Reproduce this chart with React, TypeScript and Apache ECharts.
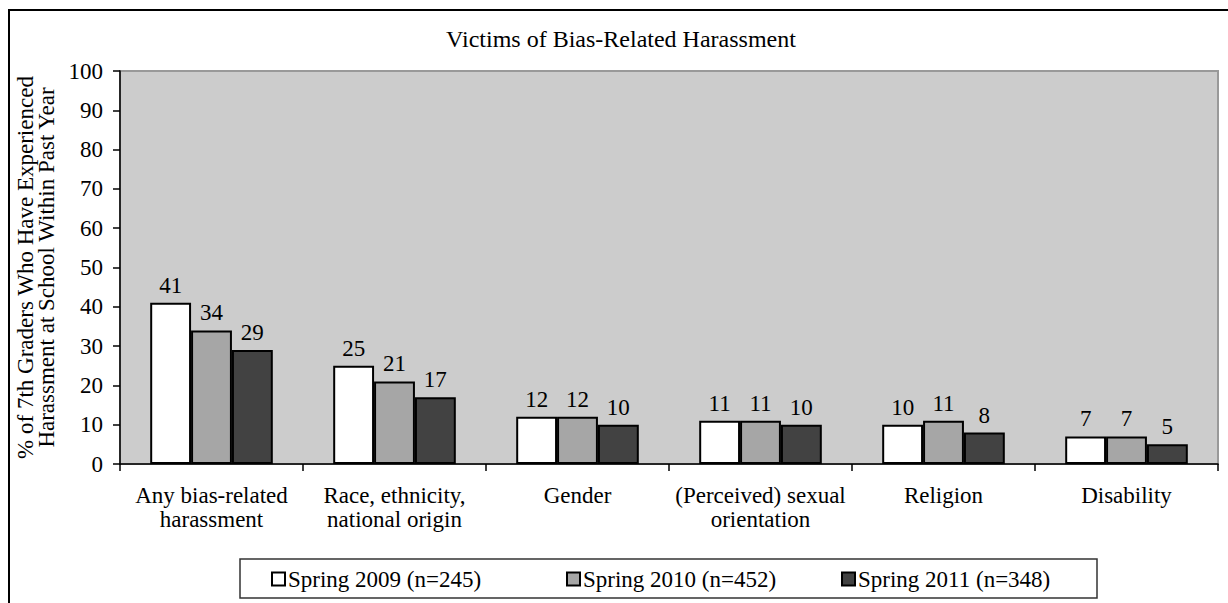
import React, { useEffect, useRef } from "react";
import * as echarts from "echarts";

const categories = [
  "Any bias-related\nharassment",
  "Race, ethnicity,\nnational origin",
  "Gender",
  "(Perceived) sexual\norientation",
  "Religion",
  "Disability",
];
const seriesNames = ["Spring 2009 (n=245)", "Spring 2010 (n=452)", "Spring 2011 (n=348)"];
const spring2009 = [41, 25, 12, 11, 10, 7];
const spring2010 = [34, 21, 12, 11, 11, 7];
const spring2011 = [29, 17, 10, 10, 8, 5];
const seriesColors = ["#ffffff", "#a6a6a6", "#424242"];
const yTicks = { min: 0, max: 100, interval: 10 };

const FONT = "Liberation Serif";
const FS = 23;

export default function App() {
  const ref = useRef<HTMLDivElement>(null);
  useEffect(() => {
    if (!ref.current) return;
    const chart = echarts.init(ref.current, undefined, { renderer: "svg" });
    const values = [spring2009, spring2010, spring2011];
    const legendLefts = [271, 566, 841];
    chart.setOption({
      animation: false,
      textStyle: { fontFamily: FONT, color: "#000" },
      title: {
        text: "Victims of Bias-Related Harassment",
        left: 621,
        top: 27,
        textAlign: "center",
        padding: 0,
        textStyle: { fontFamily: FONT, fontSize: 24, fontWeight: "normal", color: "#000", lineHeight: 24 },
      },
      graphic: [
        {
          type: "rect",
          z: -10,
          shape: { x: 9, y: 10, width: 1400, height: 800 },
          style: { fill: "none", stroke: "#000", lineWidth: 2 },
        },
        {
          type: "rect",
          z: -5,
          shape: { x: 240, y: 559, width: 857, height: 39 },
          style: { fill: "none", stroke: "#333", lineWidth: 1.5 },
        },
      ],
      legend: seriesNames.map((n, i) => ({
        data: [n],
        left: legendLefts[i],
        top: 566,
        padding: 0,
        selectedMode: false,
        itemWidth: 13,
        itemHeight: 13,
        icon: "rect",
        textStyle: { fontFamily: FONT, fontSize: FS, color: "#000", lineHeight: 26, padding: [0, 0, 0, -2] },
      })),
      grid: {
        left: 120,
        top: 71,
        right: 10,
        bottom: 139,
        show: true,
        backgroundColor: "#cccccc",
        borderColor: "#999999",
        borderWidth: 2,
      },
      xAxis: {
        type: "category",
        data: categories,
        axisLine: { lineStyle: { color: "#000", width: 1.5 } },
        axisTick: { show: true, length: 7, lineStyle: { color: "#000", width: 1.5 } },
        axisLabel: { fontFamily: FONT, fontSize: FS, color: "#000", lineHeight: 24, margin: 19, interval: 0 },
        splitLine: { show: false },
      },
      yAxis: {
        type: "value",
        min: yTicks.min,
        max: yTicks.max,
        interval: yTicks.interval,
        name: "% of 7th Graders Who Have Experienced\nHarassment at School Within Past Year",
        nameLocation: "middle",
        nameRotate: 90,
        nameGap: 62,
        nameTextStyle: { fontFamily: FONT, fontSize: FS, color: "#000", lineHeight: 21 },
        axisLine: { show: true, lineStyle: { color: "#000", width: 1.5 } },
        axisTick: { show: true, length: 7, lineStyle: { color: "#000", width: 1.5 } },
        axisLabel: { fontFamily: FONT, fontSize: FS, color: "#000", margin: 17 },
        splitLine: { show: false },
      },
      series: seriesNames.map((n, i) => ({
        name: n,
        type: "bar",
        data: values[i],
        barGap: "0%",
        barCategoryGap: "33%",
        itemStyle: { color: seriesColors[i], borderColor: "#000", borderWidth: 2 },
        label: {
          show: true,
          position: "top",
          distance: 6,
          fontFamily: FONT,
          fontSize: FS,
          color: "#000",
        },
      })),
    });
    return () => chart.dispose();
  }, []);
  return (
    <div
      ref={ref}
      style={{ position: "absolute", left: 0, top: 0, width: 1228, height: 603 }}
    />
  );
}
